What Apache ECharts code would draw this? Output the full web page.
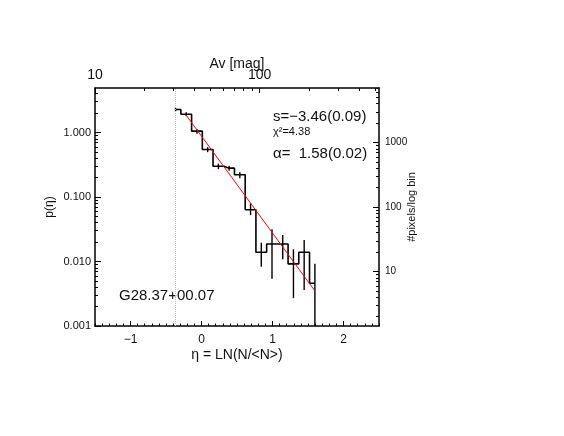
<!DOCTYPE html>
<html>
<head>
<meta charset="utf-8">
<title>p(eta) G28.37+00.07</title>
<script src="https://cdn.jsdelivr.net/npm/echarts@6/dist/echarts.min.js"></script>
<style>
    html, body { margin: 0; padding: 0; background: #fff; }
    #main { width: 564px; height: 436px; }
</style>
</head>
<body>
<div id="main"></div>
<script>
// histogram bins (eta = ln(N/<N>)) and p(eta)
var eta = [-0.366, -0.215, -0.064, 0.087, 0.238, 0.389, 0.540, 0.691, 0.842, 0.993, 1.144, 1.295, 1.446, 1.597];
var pEta = [2.27, 1.92, 1.05, 0.545, 0.30, 0.28, 0.221, 0.0633, 0.0139, 0.0187, 0.0187, 0.0092, 0.0139, 0.0046];
// error bar ends
var errLow  = [2.14, 1.79, 0.958, 0.496, 0.270, 0.256, 0.196, 0.0525, 0.0083, 0.0054, 0.0108, 0.0027, 0.0036, 0.001];
var errHigh = [2.42, 2.06, 1.12, 0.592, 0.329, 0.306, 0.243, 0.0796, 0.0195, 0.0315, 0.0257, 0.0155, 0.0215, 0.0092];
// power law fit (red line) end points
var fitEta = [-0.215, 1.597];
var fitP = [1.85, 0.0035];
// completeness limit (dotted line)
var cutEta = -0.366;

// axes
var etaRange = [-1.5, 2.5];
var etaTicks = [-1, 0, 1, 2];
var pRange = [0.001, 4.9];
var pTicks = [0.001, 0.01, 0.1, 1];
var pixPerP = 1430;          // #pixels/log bin = p * pixPerP
var pixTicks = [10, 100, 1000];
var avRange = [10, 530];
var avTicks = [10, 100];

var FONT = "'Liberation Sans', Arial, sans-serif";
var INK = '#111';

function lg(v) { return Math.log10(v); }

function logMinor(lo, hi) {
    var out = [];
    for (var e = Math.floor(lg(lo)); e <= Math.ceil(lg(hi)); e++) {
        for (var k = 2; k <= 9; k++) {
            var v = k * Math.pow(10, e);
            if (v > lo && v < hi) out.push(lg(v));
        }
    }
    return out;
}

var etaMinor = [];
for (var i = -15; i <= 25; i++) {
    if (i % 10 !== 0) etaMinor.push(i / 10);
}

function fmtPow(dec) {
    return function (v) {
        var x = Math.pow(10, v);
        return dec ? x.toFixed(dec) : String(Math.round(x));
    };
}

function axisBase(pos, range, ticks, len, label) {
    var a = {
        type: 'value',
        position: pos,
        min: range[0],
        max: range[1],
        splitLine: { show: false },
        axisLine: { show: !!label, onZero: false, lineStyle: { color: '#000', width: 1.5 } },
        axisTick: { show: true, inside: true, length: len, customValues: ticks, lineStyle: { color: '#000', width: 1 } },
        axisLabel: { show: false }
    };
    if (label) {
        a.axisLabel = label;
    }
    return a;
}

function setName(axis, text, gap, size, rotate) {
    axis.name = text;
    axis.nameLocation = 'middle';
    axis.nameGap = gap;
    axis.nameMoveOverlap = false;
    if (rotate) axis.nameRotate = rotate;
    axis.nameTextStyle = { fontSize: size, color: INK, fontFamily: FONT };
}

var pyRange = [lg(pRange[0]), lg(pRange[1])];
var rightRange = [lg(pRange[0] * pixPerP), lg(pRange[1] * pixPerP)];
var avLogRange = [lg(avRange[0]), lg(avRange[1])];

var xBottom = axisBase('bottom', etaRange, etaTicks, 5, {
    show: true, customValues: etaTicks, margin: 8, fontSize: 12, color: INK, fontFamily: FONT,
    formatter: function (v) { return v < 0 ? '\u2212' + Math.abs(v) : String(v); }
});
setName(xBottom, '\u03b7 = LN(N/<N>)', 22, 14);

var xTop = axisBase('top', avLogRange, avTicks.map(lg), 5, {
    show: true, customValues: avTicks.map(lg), margin: 6, fontSize: 14, color: INK, fontFamily: FONT,
    formatter: fmtPow(0)
});
setName(xTop, 'Av [mag]', 17, 14);

var yLeft = axisBase('left', pyRange, pTicks.map(lg), 6, {
    show: true, customValues: pTicks.map(lg), margin: 4, fontSize: 11, color: INK, fontFamily: FONT,
    formatter: fmtPow(3)
});
setName(yLeft, 'p(\u03b7)', 39, 12, 90);

var yRight = axisBase('right', rightRange, pixTicks.map(lg), 6, {
    show: true, customValues: pixTicks.map(lg), margin: 6, fontSize: 10, color: INK, fontFamily: FONT,
    formatter: fmtPow(0)
});
setName(yRight, '#pixels/log bin', 27, 11, 90);

var option = {
    animation: false,
    backgroundColor: '#fff',
    grid: { left: 95, top: 88, width: 284, height: 238, containLabel: false },
    xAxis: [
        xBottom,
        axisBase('bottom', etaRange, etaMinor, 2.5, null),
        xTop,
        axisBase('top', avLogRange, logMinor(avRange[0], avRange[1]), 3, null)
    ],
    yAxis: [
        yLeft,
        axisBase('left', pyRange, logMinor(pRange[0], pRange[1]), 3, null),
        yRight,
        axisBase('right', rightRange, logMinor(pRange[0] * pixPerP, pRange[1] * pixPerP), 3, null)
    ],
    graphic: [
        { type: 'text', x: 273, y: 117, style: { text: 's=\u22123.46(0.09)', font: '15px ' + FONT, fill: INK, verticalAlign: 'middle' } },
        { type: 'text', x: 273, y: 132, style: { text: '\u03c7\u00b2=4.38', font: '11px ' + FONT, fill: INK, verticalAlign: 'middle' } },
        { type: 'text', x: 273, y: 154, style: { text: '\u03b1=  1.58(0.02)', font: '15px ' + FONT, fill: INK, verticalAlign: 'middle' } },
        { type: 'text', x: 119, y: 296, style: { text: 'G28.37+00.07', font: '15px ' + FONT, fill: INK, verticalAlign: 'middle' } }
    ],
    series: [
        {
            type: 'line',
            xAxisIndex: 0,
            yAxisIndex: 0,
            step: 'middle',
            symbol: 'none',
            lineStyle: { color: '#000', width: 1.6 },
            data: eta.map(function (x, i) { return [x, lg(pEta[i])]; }),
            markLine: {
                silent: true,
                symbol: ['none', 'none'],
                label: { show: false },
                lineStyle: { type: 'dotted', color: '#bbb', width: 1 },
                data: [{ xAxis: cutEta }]
            }
        },
        {
            type: 'custom',
            xAxisIndex: 0,
            yAxisIndex: 0,
            data: eta.map(function (x, i) { return [x, lg(errLow[i]), lg(errHigh[i])]; }),
            encode: { x: 0, y: [1, 2] },
            renderItem: function (params, api) {
                var a = api.coord([api.value(0), api.value(1)]);
                var b = api.coord([api.value(0), api.value(2)]);
                return {
                    type: 'line',
                    shape: { x1: a[0], y1: a[1], x2: b[0], y2: b[1] },
                    style: { stroke: '#000', lineWidth: 1.4 }
                };
            }
        },
        {
            type: 'line',
            xAxisIndex: 0,
            yAxisIndex: 0,
            symbol: 'none',
            lineStyle: { color: '#ff0000', width: 1 },
            data: fitEta.map(function (x, i) { return [x, lg(fitP[i])]; }),
            z: 5
        }
    ]
};

var myChart = echarts.init(document.getElementById('main'));
myChart.setOption(option);
</script>
</body>
</html>
